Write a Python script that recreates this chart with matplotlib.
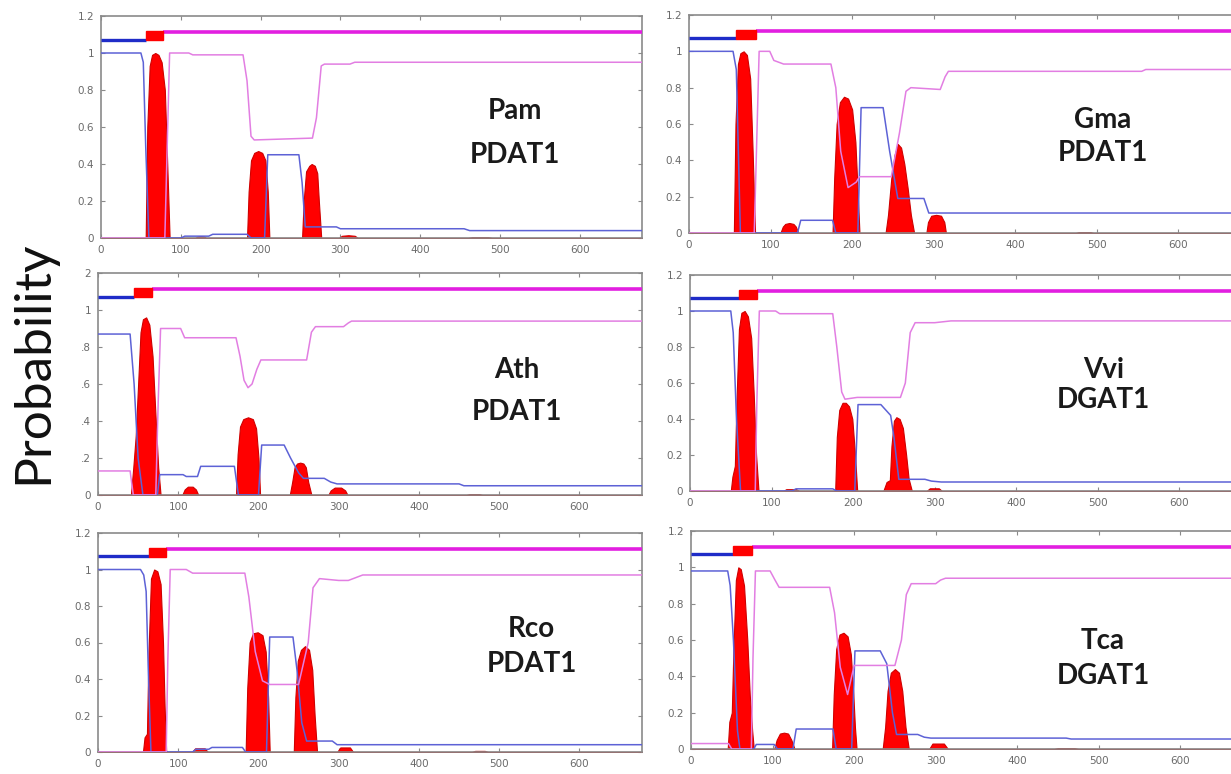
import matplotlib.pyplot as plt
from matplotlib.patches import Rectangle

FIG_W, FIG_H = 1231, 774
X_MAX = 678

# ---- Pam PDAT1 ----
PAM_TM_X = [0, 56, 58, 61, 64, 68, 72, 76, 80, 83, 86, 118, 121, 125, 129, 132,
            183, 185, 188, 192, 197, 202, 206, 209, 211, 252, 254, 257, 261, 264, 268, 271, 273, 276,
            298, 302, 310, 318, 322, 460, 465, 485, 490, 678]
PAM_TM_Y = [0, 0, 0.6, 0.93, 0.99, 1.0, 0.99, 0.95, 0.8, 0.4, 0, 0, 0.008, 0.01, 0.008, 0,
            0, 0.25, 0.42, 0.46, 0.47, 0.46, 0.42, 0.25, 0, 0, 0.2, 0.36, 0.39, 0.40, 0.39, 0.35, 0.2, 0,
            0, 0.012, 0.015, 0.012, 0, 0, 0.004, 0.004, 0, 0]
PAM_IN_X = [0, 50, 53, 56, 60, 100, 105, 135, 140, 183, 188, 205, 209, 248, 252, 256, 295, 300, 455, 462, 678]
PAM_IN_Y = [1.0, 1.0, 0.95, 0.5, 0.0, 0.0, 0.01, 0.01, 0.02, 0.02, 0.0, 0.0, 0.45, 0.45, 0.3, 0.06, 0.06, 0.05,
            0.05, 0.04, 0.04]
PAM_OUT_X = [0, 80, 83, 86, 110, 115, 178, 183, 188, 192, 265, 270, 276, 280, 312, 318, 678]
PAM_OUT_Y = [0, 0, 0.5, 1.0, 1.0, 0.99, 0.99, 0.85, 0.55, 0.53, 0.54, 0.65, 0.93, 0.94, 0.94, 0.95, 0.95]
PAM_BAR = [56, 78]

# ---- Gma PDAT1 ----
GMA_TM_X = [0, 55, 57, 60, 63, 67, 71, 75, 78, 81, 112, 115, 118, 123, 128, 131, 134,
            176, 178, 181, 185, 190, 195, 200, 204, 207, 209, 241, 244, 248, 252, 256, 260, 264, 268, 272, 276,
            291, 293, 297, 303, 309, 313, 315, 474, 478, 492, 496, 678]
GMA_TM_Y = [0, 0, 0.6, 0.93, 0.99, 1.0, 0.98, 0.85, 0.45, 0, 0, 0.035, 0.05, 0.055, 0.05, 0.035, 0,
            0, 0.3, 0.6, 0.72, 0.75, 0.74, 0.68, 0.5, 0.2, 0, 0, 0.1, 0.3, 0.43, 0.49, 0.47, 0.38, 0.25, 0.1, 0,
            0, 0.06, 0.095, 0.10, 0.095, 0.06, 0, 0, 0.005, 0.005, 0, 0]
GMA_IN_X = [0, 54, 58, 63, 133, 137, 176, 180, 207, 211, 238, 246, 256, 288, 294, 678]
GMA_IN_Y = [1.0, 1.0, 0.9, 0.0, 0.0, 0.07, 0.07, 0.0, 0.0, 0.69, 0.69, 0.45, 0.19, 0.19, 0.11, 0.11]
GMA_OUT_X = [0, 80, 83, 86, 99, 104, 116, 174, 180, 186, 195, 205, 209, 248, 258, 266, 272, 308, 314, 318,
             555, 560, 678]
GMA_OUT_Y = [0, 0, 0.5, 1.0, 1.0, 0.95, 0.93, 0.93, 0.8, 0.45, 0.25, 0.28, 0.31, 0.31, 0.55, 0.78, 0.80, 0.79,
             0.86, 0.89, 0.89, 0.90, 0.90]
GMA_BAR = [58, 82]

# ---- Ath PDAT1 ----
ATH_TM_X = [0, 41, 44, 47, 50, 53, 56, 60, 64, 68, 72, 75, 78, 105, 108, 112, 118, 122, 125,
            172, 174, 177, 181, 187, 193, 197, 200, 202, 239, 242, 245, 248, 252, 256, 259, 262, 266,
            287, 290, 295, 303, 308, 311, 459, 463, 475, 479, 678]
ATH_TM_Y = [0, 0, 0.15, 0.32, 0.6, 0.88, 0.95, 0.96, 0.92, 0.75, 0.4, 0.15, 0, 0, 0.03, 0.045, 0.045, 0.03, 0,
            0, 0.22, 0.37, 0.41, 0.42, 0.41, 0.36, 0.2, 0, 0, 0.07, 0.15, 0.17, 0.175, 0.17, 0.15, 0.07, 0,
            0, 0.025, 0.04, 0.04, 0.025, 0, 0, 0.005, 0.005, 0, 0]
ATH_IN_X = [0, 40, 45, 50, 56, 74, 77, 106, 110, 124, 128, 170, 175, 200, 204, 232, 240, 250, 256, 282, 290,
            298, 450, 456, 678]
ATH_IN_Y = [0.87, 0.87, 0.6, 0.2, 0.0, 0.0, 0.11, 0.11, 0.10, 0.10, 0.155, 0.155, 0.0, 0.0, 0.27, 0.27, 0.2,
            0.12, 0.09, 0.09, 0.07, 0.06, 0.06, 0.05, 0.05]
ATH_OUT_X = [0, 40, 44, 72, 75, 78, 103, 108, 172, 177, 182, 187, 192, 198, 203, 260, 266, 271, 306, 312, 316,
             678]
ATH_OUT_Y = [0.13, 0.13, 0.0, 0.0, 0.5, 0.90, 0.90, 0.85, 0.85, 0.75, 0.62, 0.58, 0.6, 0.68, 0.73, 0.73, 0.88,
             0.91, 0.91, 0.93, 0.94, 0.94]
ATH_BAR = [45, 67]

# ---- Vvi DGAT1 ----
VVI_TM_X = [0, 50, 52, 55, 57, 60, 63, 67, 71, 75, 78, 81, 84, 114, 118, 130, 134,
            178, 180, 183, 187, 191, 195, 199, 202, 205, 237, 241, 245, 247, 250, 253, 257, 261, 265, 268, 272,
            290, 294, 305, 309, 678]
VVI_TM_Y = [0, 0, 0.08, 0.14, 0.5, 0.9, 0.99, 1.0, 0.97, 0.85, 0.55, 0.2, 0, 0, 0.01, 0.01, 0,
            0, 0.3, 0.45, 0.49, 0.49, 0.47, 0.4, 0.22, 0, 0, 0.05, 0.06, 0.25, 0.39, 0.41, 0.40, 0.35, 0.2, 0.07, 0,
            0, 0.015, 0.015, 0, 0]
VVI_IN_X = [0, 50, 53, 57, 62, 125, 130, 175, 180, 202, 206, 234, 246, 250, 256, 288, 296, 308, 678]
VVI_IN_Y = [1.0, 1.0, 0.88, 0.4, 0.0, 0.0, 0.012, 0.012, 0.0, 0.0, 0.48, 0.48, 0.42, 0.3, 0.065, 0.065, 0.055,
            0.05, 0.05]
VVI_OUT_X = [0, 80, 82, 85, 105, 110, 175, 180, 186, 190, 205, 258, 264, 270, 276, 300, 320, 678]
VVI_OUT_Y = [0, 0, 0.5, 1.0, 1.0, 0.985, 0.985, 0.8, 0.55, 0.51, 0.52, 0.52, 0.6, 0.88, 0.935, 0.935, 0.945,
             0.945]
VVI_BAR = [60, 82]

# ---- Rco PDAT1 ----
RCO_TM_X = [0, 56, 58, 61, 63, 66, 70, 74, 78, 81, 83, 85, 117, 121, 133, 137,
            184, 186, 189, 193, 199, 205, 209, 212, 214, 244, 246, 249, 253, 258, 263, 267, 270, 273,
            298, 302, 314, 318, 466, 470, 482, 486, 678]
RCO_TM_Y = [0, 0, 0.08, 0.1, 0.55, 0.95, 1.0, 0.99, 0.92, 0.6, 0.25, 0, 0, 0.02, 0.02, 0,
            0, 0.35, 0.6, 0.65, 0.656, 0.64, 0.55, 0.3, 0, 0, 0.3, 0.5, 0.56, 0.58, 0.56, 0.45, 0.2, 0,
            0, 0.025, 0.025, 0, 0, 0.006, 0.006, 0, 0]
RCO_IN_X = [0, 53, 57, 60, 63, 66, 118, 122, 138, 142, 180, 184, 210, 214, 243, 248, 254, 260, 292, 298, 678]
RCO_IN_Y = [1.0, 1.0, 0.97, 0.88, 0.4, 0.0, 0.0, 0.015, 0.015, 0.025, 0.025, 0.0, 0.0, 0.63, 0.63, 0.45, 0.16,
            0.06, 0.06, 0.04, 0.04]
RCO_OUT_X = [0, 85, 87, 90, 110, 118, 183, 188, 196, 205, 214, 250, 262, 268, 276, 300, 312, 330, 678]
RCO_OUT_Y = [0, 0, 0.5, 1.0, 1.0, 0.98, 0.98, 0.85, 0.55, 0.39, 0.37, 0.37, 0.6, 0.9, 0.95, 0.94, 0.94, 0.97,
             0.97]
RCO_BAR = [63, 85]

# ---- Tca DGAT1 ----
TCA_TM_X = [0, 45, 47, 50, 52, 55, 58, 61, 65, 69, 72, 75, 77, 102, 105, 109, 114, 119, 123, 127,
            173, 175, 178, 182, 187, 192, 196, 199, 201, 203, 235, 238, 241, 245, 250, 255, 259, 263, 267,
            292, 296, 310, 315, 445, 450, 470, 475, 678]
TCA_TM_Y = [0, 0, 0.15, 0.2, 0.55, 0.93, 1.0, 0.99, 0.9, 0.6, 0.3, 0.1, 0, 0, 0.05, 0.085, 0.09, 0.085, 0.05, 0,
            0, 0.3, 0.55, 0.63, 0.64, 0.62, 0.52, 0.3, 0.12, 0, 0, 0.12, 0.32, 0.42, 0.44, 0.42, 0.32, 0.12, 0,
            0, 0.03, 0.03, 0, 0, 0.005, 0.005, 0, 0]
TCA_IN_X = [0, 45, 48, 52, 57, 60, 77, 80, 102, 106, 125, 129, 174, 178, 197, 201, 232, 240, 247, 252, 278,
            286, 294, 460, 466, 678]
TCA_IN_Y = [0.98, 0.98, 0.9, 0.6, 0.1, 0.0, 0.0, 0.025, 0.025, 0.0, 0.0, 0.11, 0.11, 0.0, 0.0, 0.54, 0.54, 0.47,
            0.2, 0.08, 0.08, 0.065, 0.06, 0.06, 0.055, 0.055]
TCA_OUT_X = [0, 46, 50, 74, 76, 79, 97, 103, 108, 170, 176, 183, 192, 200, 250, 258, 264, 270, 300, 306, 312,
             678]
TCA_OUT_Y = [0.03, 0.03, 0.0, 0.0, 0.5, 0.98, 0.98, 0.93, 0.89, 0.89, 0.75, 0.45, 0.3, 0.46, 0.46, 0.6, 0.85,
             0.91, 0.91, 0.93, 0.94, 0.94]
TCA_BAR = [52, 75]

SPECIES = ["Pam", "Gma", "Ath", "Vvi", "Rco", "Tca"]
GENES = ["PDAT1", "PDAT1", "PDAT1", "DGAT1", "PDAT1", "DGAT1"]
X_TICKS = [0, 100, 200, 300, 400, 500, 600]
Y_TICKS = [0, 0.2, 0.4, 0.6, 0.8, 1.0, 1.2]
Y_TICK_LABELS = ["0", "0.2", "0.4", "0.6", "0.8", "1", "1.2"]
Y_TICK_LABELS_CUT = ["0", ".2", ".4", ".6", ".8", "1", "2"]

# axes boxes in pixels: left, top (y=1.2), width, bottom (y=0)
BOXES = [
    (101, 16, 541, 238), (689, 15, 553, 233),
    (98, 273, 544, 495), (690, 275, 553, 491),
    (98, 533, 544, 752), (691, 531, 553, 749),
]
# label positions in axes fraction (x, y of species line, y of gene line)
LABEL_POS = [(0.765, 0.57, 0.375), (0.748, 0.52, 0.365), (0.77, 0.565, 0.375),
             (0.748, 0.56, 0.423), (0.797, 0.56, 0.40), (0.745, 0.497, 0.336)]

RED = "#ff0000"
IN_COLOR = "#5d62d6"
OUT_COLOR = "#e27ee2"
BAR_BLUE = "#1f2cc8"
BAR_MAGENTA = "#e21fe0"
GRAY = "#8a8a8a"


def draw_panel(ax, tm, inside, outside, bar, species, gene, pos, yticklabels):
    ax.fill_between(tm[0], 0, tm[1], color=RED, linewidth=0.8, edgecolor="#d00000", zorder=2)
    ax.plot(inside[0], inside[1], color=IN_COLOR, linewidth=1.1, zorder=3)
    ax.plot(outside[0], outside[1], color=OUT_COLOR, linewidth=1.1, zorder=3)

    # topology bar
    ax.plot([0, bar[0]], [1.072, 1.072], color=BAR_BLUE, linewidth=2.4, solid_capstyle="butt", zorder=4)
    ax.plot([bar[1], X_MAX], [1.113, 1.113], color=BAR_MAGENTA, linewidth=2.6,
            solid_capstyle="butt", zorder=4)
    ax.add_patch(Rectangle((bar[0], 1.068), bar[1] - bar[0], 0.05, color=RED, zorder=5))

    ax.set_xlim(0, X_MAX)
    ax.set_ylim(0, 1.2)
    ax.set_xticks(X_TICKS)
    ax.set_yticks(Y_TICKS)
    ax.set_yticklabels(yticklabels)
    ax.tick_params(direction="in", length=3, width=0.8, color=GRAY, labelcolor="#6a6a6a",
                   labelsize=7.5, top=True, right=True, pad=5)
    for spine in ax.spines.values():
        spine.set_color(GRAY)
        spine.set_linewidth(1.2)

    font = dict(family=["Lato", "DejaVu Sans"], fontweight="bold", fontsize=20, color="#1a1a1a",
                ha="center", va="center", transform=ax.transAxes)
    ax.text(pos[0], pos[1], species, **font)
    ax.text(pos[0], pos[2], gene, **font)


panels = [
    ((PAM_TM_X, PAM_TM_Y), (PAM_IN_X, PAM_IN_Y), (PAM_OUT_X, PAM_OUT_Y), PAM_BAR),
    ((GMA_TM_X, GMA_TM_Y), (GMA_IN_X, GMA_IN_Y), (GMA_OUT_X, GMA_OUT_Y), GMA_BAR),
    ((ATH_TM_X, ATH_TM_Y), (ATH_IN_X, ATH_IN_Y), (ATH_OUT_X, ATH_OUT_Y), ATH_BAR),
    ((VVI_TM_X, VVI_TM_Y), (VVI_IN_X, VVI_IN_Y), (VVI_OUT_X, VVI_OUT_Y), VVI_BAR),
    ((RCO_TM_X, RCO_TM_Y), (RCO_IN_X, RCO_IN_Y), (RCO_OUT_X, RCO_OUT_Y), RCO_BAR),
    ((TCA_TM_X, TCA_TM_Y), (TCA_IN_X, TCA_IN_Y), (TCA_OUT_X, TCA_OUT_Y), TCA_BAR),
]

fig = plt.figure(figsize=(FIG_W / 100, FIG_H / 100), dpi=100)

for i, (tm, inside, outside, bar) in enumerate(panels):
    left, top, width, bottom = BOXES[i]
    ax = fig.add_axes([left / FIG_W, 1 - bottom / FIG_H, width / FIG_W, (bottom - top) / FIG_H])
    labels = Y_TICK_LABELS_CUT if i == 2 else Y_TICK_LABELS
    draw_panel(ax, tm, inside, outside, bar, SPECIES[i], GENES[i], LABEL_POS[i], labels)

fig.text(33 / FIG_W, 1 - 362 / FIG_H, "Probability", rotation=90, ha="center", va="center",
         fontsize=37, family=["Lato", "DejaVu Sans"], color="#111111")

fig.savefig("out.png", dpi=100)
